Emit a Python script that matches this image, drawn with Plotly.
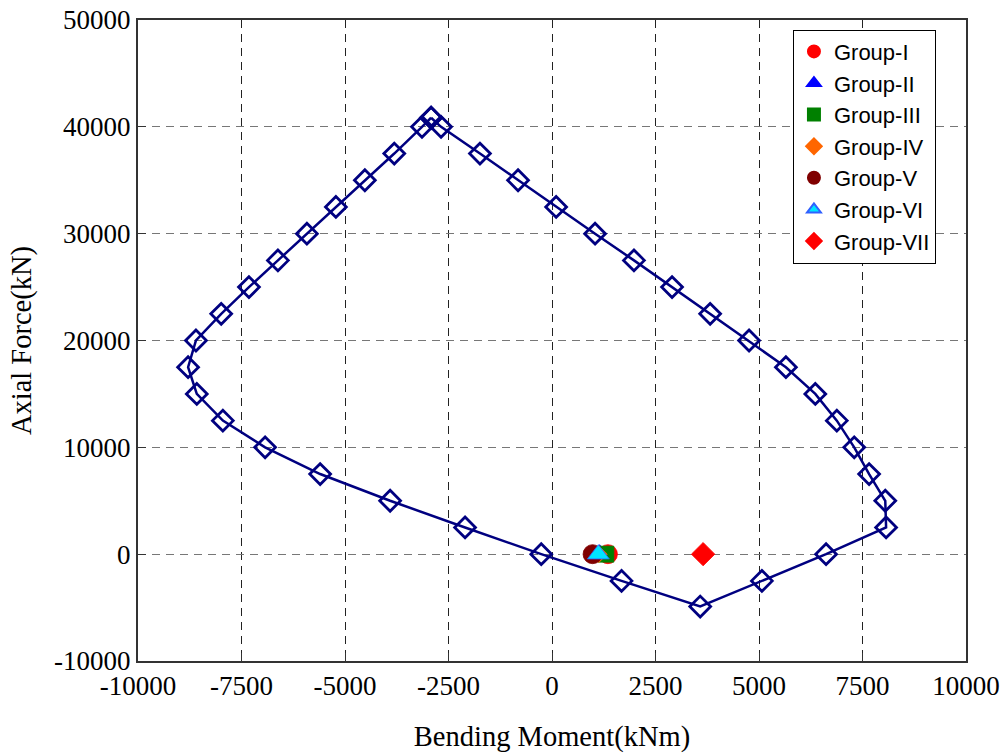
import plotly.graph_objects as go

# Interaction diagram (closed P-M envelope), ordered around the curve
moment = [-2920, -2680, -1740, -820, 100, 1040, 1980, 2900, 3820, 4760, 5650,
          6360, 6880, 7300, 7660, 8050, 8070, 6620, 5070, 3580, 1680, -260,
          -2100, -3910, -5600, -6930, -7950, -8580, -8790, -8600, -7990,
          -7320, -6620, -5920, -5220, -4520, -3810, -3140, -2920]
axial = [40850, 40000, 37500, 35000, 32500, 30000, 27500, 25000, 22500, 20000,
         17500, 15000, 12500, 10000, 7500, 5000, 2500, 0, -2500, -4900, -2500,
         0, 2500, 5000, 7500, 10000, 12500, 15000, 17500, 20000, 22500, 25000,
         27500, 30000, 32500, 35000, 37500, 40000, 40850]

# Load groups
groups = ["Group-I", "Group-II", "Group-III", "Group-IV", "Group-V", "Group-VI", "Group-VII"]
group_m = [1350, 1150, 1300, 1130, 980, 1120, 3650]
group_p = [0, 0, 0, 0, 0, 0, 0]
group_colors = ["#ff0000", "#0000ff", "#008000", "#ff6600", "#800000", "#00e5ff", "#ff0000"]
group_symbols = ["circle", "triangle-up", "square", "diamond", "circle", "triangle-up", "diamond"]
group_sizes = [19, 19, 16, 13, 19, 19, 18]

x_ticks = [-10000, -7500, -5000, -2500, 0, 2500, 5000, 7500, 10000]
y_ticks = [-10000, 0, 10000, 20000, 30000, 40000, 50000]

fig = go.Figure()
fig.add_trace(go.Scatter(
    x=moment, y=axial, mode="lines+markers", showlegend=False,
    line=dict(color="#000080", width=2.5),
    marker=dict(symbol="diamond-open", size=16, color="#000080",
                line=dict(color="#000080", width=2.8)),
))
for name, m, p, c, s, sz in zip(groups, group_m, group_p, group_colors, group_symbols, group_sizes):
    fig.add_trace(go.Scatter(
        x=[m], y=[p], mode="markers", name=name,
        marker=dict(symbol=s, size=sz, color=c,
                    line=dict(width=0.8, color="#3060ff" if name == "Group-VI" else c)),
    ))

serif = "Liberation Serif, Times New Roman, serif"
fig.update_layout(
    width=1001, height=753,
    margin=dict(l=138, r=35, t=20, b=92),
    paper_bgcolor="white", plot_bgcolor="white",
    font=dict(family=serif, size=27, color="black"),
    xaxis=dict(
        range=[-10000, 10000], tickvals=x_ticks, ticktext=[str(v) for v in x_ticks],
        showgrid=True, gridcolor="#222222", griddash="8px,6px", gridwidth=1,
        showline=True, linecolor="#333333", linewidth=2, mirror=True,
        ticks="inside", ticklen=8, tickcolor="#333333", tickwidth=1,
        zeroline=False, automargin=False,
        title=dict(text="Bending Moment(kNm)", font=dict(size=28.5), standoff=28),
    ),
    yaxis=dict(
        range=[-10000, 50000], tickvals=y_ticks, ticktext=[str(v) for v in y_ticks],
        showgrid=True, gridcolor="#777777", griddash="8px,6px", gridwidth=1,
        showline=True, linecolor="#333333", linewidth=2, mirror=True,
        ticks="inside", ticklen=8, tickcolor="#333333", tickwidth=1,
        zeroline=False, automargin=False,
        title=dict(text="Axial Force(kN)", font=dict(size=28.5), standoff=14),
    ),
    legend=dict(
        x=0.791, y=0.985, xanchor="left", yanchor="top",
        bgcolor="white", bordercolor="black", borderwidth=1,
        font=dict(family="Liberation Sans, Arial, sans-serif", size=22),
        itemsizing="constant", tracegroupgap=0, itemwidth=30,
    ),
)

fig.write_html("out.html")
